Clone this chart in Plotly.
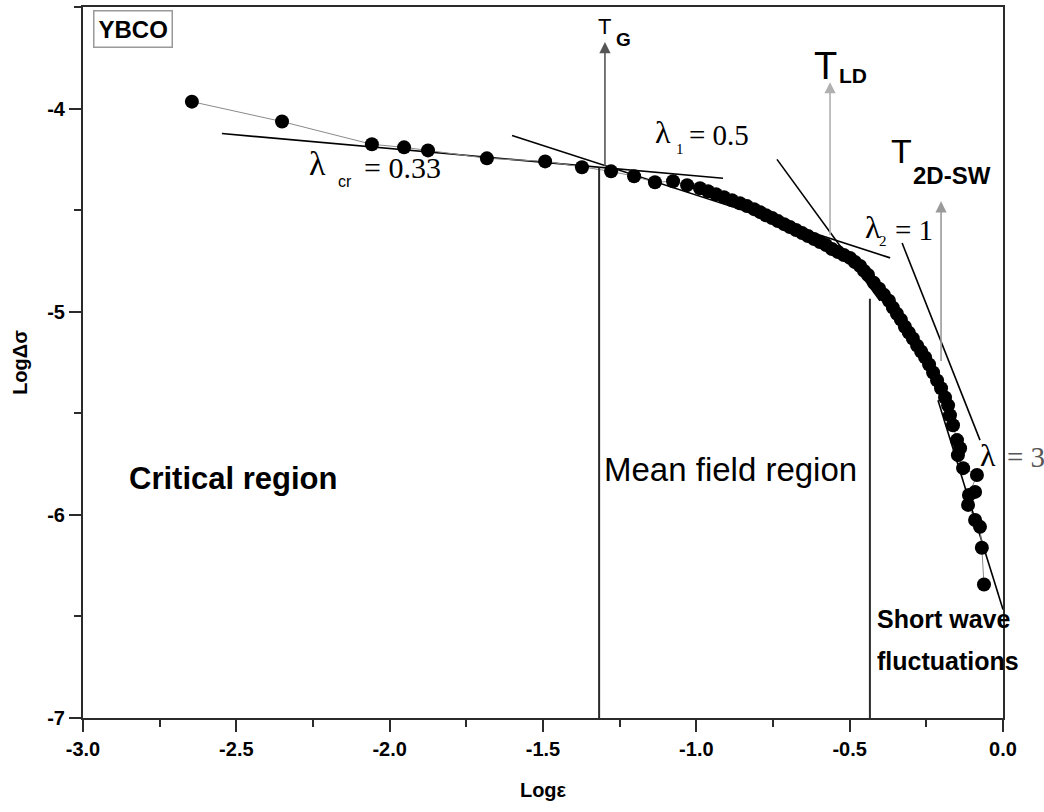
import plotly.graph_objects as go

# ---------------- data ----------------
log_eps = [-2.645, -2.351, -2.058, -1.953, -1.875, -1.683, -1.493, -1.373, -1.278,
           -1.203, -1.135, -1.076, -1.030,
           -0.988, -0.962, -0.936, -0.910, -0.884, -0.858, -0.835, -0.812, -0.792,
           -0.773, -0.753, -0.734, -0.714, -0.695, -0.675, -0.655, -0.636, -0.616,
           -0.597, -0.577, -0.558, -0.538, -0.519, -0.499, -0.483, -0.466, -0.453,
           -0.440, -0.421, -0.404, -0.388, -0.372, -0.359, -0.346, -0.333, -0.320,
           -0.307, -0.294, -0.280, -0.267, -0.254, -0.241, -0.228, -0.215, -0.202,
           -0.189, -0.179, -0.173, -0.163, -0.150, -0.140, -0.147, -0.130, -0.085,
           -0.111, -0.091, -0.114, -0.091, -0.075, -0.069, -0.062]
log_dsigma = [-3.966, -4.064, -4.176, -4.191, -4.206, -4.245, -4.260, -4.289, -4.309,
              -4.333, -4.363, -4.358, -4.377,
              -4.392, -4.407, -4.422, -4.436, -4.451, -4.466, -4.480, -4.495, -4.510,
              -4.525, -4.539, -4.554, -4.569, -4.583, -4.598, -4.613, -4.627, -4.642,
              -4.657, -4.672, -4.691, -4.706, -4.721, -4.735, -4.755, -4.775, -4.799,
              -4.819, -4.858, -4.887, -4.917, -4.946, -4.980, -5.010, -5.039, -5.074,
              -5.103, -5.132, -5.167, -5.196, -5.225, -5.260, -5.299, -5.338, -5.377,
              -5.422, -5.461, -5.510, -5.559, -5.632, -5.672, -5.706, -5.770, -5.804,
              -5.902, -5.887, -5.951, -6.025, -6.059, -6.162, -6.343]

# fitted straight lines (start / end in data units)
fit_names = ["cr", "l1", "l2", "l2b", "l3"]
fit_x = [[-2.547, -0.913], [-1.601, -0.368], [-0.737, -0.401], [-0.329, -0.075], [-0.212, 0.0]]
fit_y = [[-4.123, -4.343], [-4.132, -4.735], [-4.250, -4.946], [-4.662, -5.632], [-5.436, -6.466]]

# characteristic temperatures (x positions) and boundaries
T_G_x, T_LD_x, T_2DSW_x = -1.298, -0.564, -0.202
boundary_x = [-1.317, -0.434]
boundary_top = [-4.29, -4.936]

x_ticks = [-3.0, -2.5, -2.0, -1.5, -1.0, -0.5, 0.0]
x_ticklabels = ["-3.0", "-2.5", "-2.0", "-1.5", "-1.0", "-0.5", "0.0"]
y_ticks = [-7, -6, -5, -4]
y_ticklabels = ["-7", "-6", "-5", "-4"]

SANS = "Liberation Sans"
SERIF = "Liberation Serif"
DARK = "#2b2b2b"

fig = go.Figure()

# fit lines
for fx, fy in zip(fit_x, fit_y):
    fig.add_trace(go.Scatter(x=fx, y=fy, mode="lines",
                             line=dict(color="black", width=1.6),
                             showlegend=False, hoverinfo="skip"))

# data
fig.add_trace(go.Scatter(x=log_eps, y=log_dsigma, mode="lines+markers",
                         line=dict(color="#8a8a8a", width=1),
                         marker=dict(color="black", size=14),
                         showlegend=False))

# vertical boundary lines
for bx, bt in zip(boundary_x, boundary_top):
    fig.add_trace(go.Scatter(x=[bx, bx], y=[-7, bt], mode="lines",
                             line=dict(color=DARK, width=2),
                             showlegend=False, hoverinfo="skip"))

annotations = []
# arrows
for xx, y0, y1, col in [(T_G_x, -4.29, -3.672, "#555555"),
                        (T_LD_x, -4.63, -3.87, "#b0b0b0"),
                        (T_2DSW_x, -5.25, -4.456, "#9a9a9a")]:
    annotations.append(dict(x=xx, y=y1, ax=xx, ay=y0, xref="x", yref="y",
                            axref="x", ayref="y", showarrow=True, arrowhead=2,
                            arrowsize=1.4, arrowwidth=1.6, arrowcolor=col, text=""))


def txt(x, y, s, size, family=SANS, xanchor="center", yanchor="middle", color="black",
        xshift=0):
    annotations.append(dict(x=x, y=y, xref="x", yref="y", text=s, showarrow=False,
                            xanchor=xanchor, yanchor=yanchor, xshift=xshift,
                            font=dict(family=family, size=size, color=color)))


# T labels
txt(-1.298, -3.598, "T", 22)
txt(-1.268, -3.662, "<b>G</b>", 19, xanchor="left")
txt(-0.580, -3.789, "T", 38)
txt(-0.542, -3.835, "<b>LD</b>", 21, xanchor="left")
txt(-0.330, -4.211, "T", 34)
txt(-0.300, -4.330, "<b>2D-SW</b>", 24, xanchor="left")

# lambda labels
txt(-2.234, -4.270, "λ", 34, family=SERIF)
txt(-2.146, -4.358, "cr", 16)
txt(-2.090, -4.289, "= 0.33", 30, family=SERIF, xanchor="left")
txt(-1.109, -4.113, "λ", 32, family=SERIF)
txt(-1.053, -4.200, "1", 15, family=SERIF)
txt(-1.030, -4.130, "= 0.5", 29, family=SERIF, xanchor="left")
txt(-0.424, -4.585, "λ", 32, family=SERIF)
txt(-0.391, -4.652, "2", 15, family=SERIF)
txt(-0.359, -4.600, "= 1", 29, family=SERIF, xanchor="left")
txt(-0.049, -5.705, "λ", 32, family=SERIF)
txt(-0.001, -5.715, "= 3", 29, family=SERIF, xanchor="left", color="#555555", xshift=2)

# region labels
txt(-2.511, -5.819, "<b>Critical region</b>", 31)
txt(-0.890, -5.779, "Mean field region", 33)
txt(-0.417, -6.515, "<b>Short wave</b>", 25, xanchor="left")
txt(-0.417, -6.721, "<b>fluctuations</b>", 25, xanchor="left")

# sample box
annotations.append(dict(x=-2.967, y=-3.515, xref="x", yref="y", text="<b>YBCO</b>",
                        showarrow=False, xanchor="left", yanchor="top",
                        font=dict(family=SANS, size=24, color="black"),
                        bordercolor="#999999", borderwidth=1.5, borderpad=4,
                        bgcolor="white"))

axis_common = dict(showgrid=False, zeroline=False, showline=True, mirror=True,
                   linecolor=DARK, linewidth=2, ticks="outside", tickcolor=DARK,
                   tickwidth=2, tickfont=dict(family=SANS, size=20, color="black",
                                              weight="bold"))

fig.update_layout(
    width=1044, height=812,
    margin=dict(l=83, r=41, t=5, b=94),
    paper_bgcolor="white", plot_bgcolor="white",
    annotations=annotations,
    xaxis=dict(range=[-3.0, 0.0], tickvals=x_ticks,
               ticktext=["<b>%s</b>" % t for t in x_ticklabels], ticklen=12,
               minor=dict(dtick=0.25, tick0=0, ticks="outside", ticklen=7,
                          tickcolor=DARK, tickwidth=2),
               title=dict(text="<b>Logε</b>", font=dict(family=SANS, size=20, color="black"),
                          standoff=24),
               **axis_common),
    yaxis=dict(range=[-7.0, -3.5], tickvals=y_ticks,
               ticktext=["<b>%s</b>" % t for t in y_ticklabels], ticklen=12,
               minor=dict(dtick=0.5, tick0=0, ticks="outside", ticklen=7,
                          tickcolor=DARK, tickwidth=2),
               title=dict(text="<b>LogΔσ</b>", font=dict(family=SANS, size=20, color="black"),
                          standoff=14),
               **axis_common),
)

fig.write_html("out.html")
